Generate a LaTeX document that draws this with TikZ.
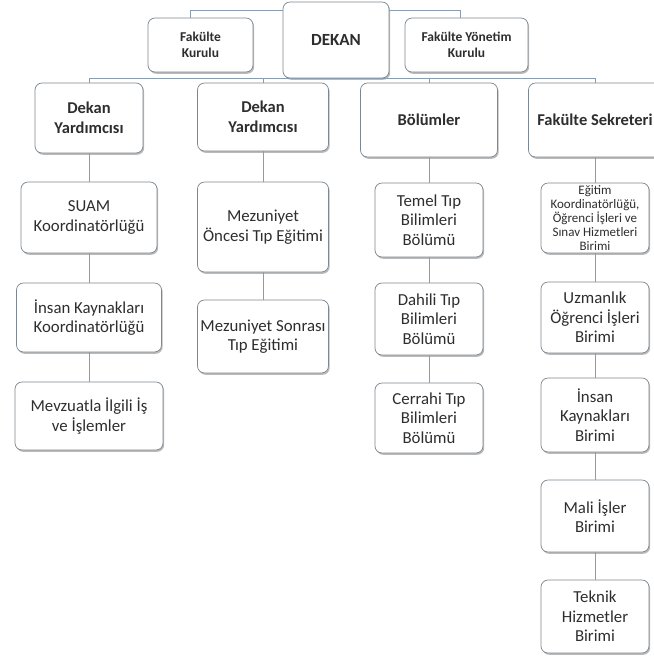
\documentclass[tikz,border=0pt]{standalone}
\usepackage{fontspec}
\setmainfont{Carlito}
\usetikzlibrary{positioning,shadows}
\definecolor{linegray}{HTML}{8A9DB0}
\definecolor{boxgray}{HTML}{7D8790}
\definecolor{textgray}{HTML}{2E2E2E}
\tikzset{every picture/.style={line width=0.8pt}}

\begin{document}
\begin{tikzpicture}[x=1pt, y=-1pt,
    unit/.style={draw=boxgray, line width=0.7pt, rounded corners=7pt, fill=white,
        text=textgray, align=center, inner sep=1pt,
        drop shadow={shadow xshift=1.2pt, shadow yshift=-1.8pt, fill=black!60, opacity=0.45},
        font=\fontsize{16.8}{19.5}\selectfont},
    head/.style={unit, font=\bfseries\fontsize{16.5}{19.5}\selectfont},
    small/.style={unit, font=\bfseries\fontsize{13.5}{16}\selectfont},
    conn/.style={draw=linegray, line width=1pt}]
    \useasboundingbox (0,0) rectangle (654,657);

    % Dean and boards
    \node[unit, font=\bfseries\fontsize{17}{20}\selectfont, minimum width=106pt, minimum height=76pt] (dekan) at (336,40) {DEKAN};
    \node[small, minimum width=105pt, minimum height=54pt] (kurul) at (200.5,45) {Fakülte\\Kurulu};
    \node[small, minimum width=123pt, minimum height=54pt] (yonetim) at (466.5,45) {Fakülte Yönetim\\Kurulu};

    % Second level
    \node[head, minimum width=108pt, minimum height=70pt] (dy1) at (89,118) {Dekan\\Yardımcısı};
    \node[head, minimum width=131pt, minimum height=68pt] (dy2) at (263,117) {Dekan\\Yardımcısı};
    \node[head, minimum width=137pt, minimum height=74pt] (bol) at (429,120) {Bölümler};
    \node[head, minimum width=133pt, minimum height=74pt] (sek) at (595,120) {Fakülte Sekreteri};

    % Column under first vice dean
    \node[unit, minimum width=136pt, minimum height=71pt] (suam) at (89,217.5) {SUAM\\Koordinatörlüğü};
    \node[unit, minimum width=145pt, minimum height=69pt] (ikk) at (89,317.5) {İnsan Kaynakları\\Koordinatörlüğü};
    \node[unit, minimum width=148pt, minimum height=68pt] (mevz) at (89,416) {Mevzuatla İlgili İş\\ve İşlemler};

    % Column under second vice dean
    \node[unit, minimum width=131pt, minimum height=90pt] (once) at (263,227) {Mezuniyet\\Öncesi Tıp Eğitimi};
    \node[unit, minimum width=131pt, minimum height=73pt] (sonra) at (263,336.5) {Mezuniyet Sonrası\\Tıp Eğitimi};

    % Departments
    \node[unit, minimum width=108pt, minimum height=74pt] (temel) at (429,220) {Temel Tıp\\Bilimleri\\Bölümü};
    \node[unit, minimum width=108pt, minimum height=72pt] (dahili) at (429,319) {Dahili Tıp\\Bilimleri\\Bölümü};
    \node[unit, minimum width=108pt, minimum height=70pt] (cerrahi) at (429,418) {Cerrahi Tıp\\Bilimleri\\Bölümü};

    % Faculty secretary units
    \node[unit, font=\fontsize{13}{14}\selectfont, minimum width=108pt, minimum height=70pt] (egitim) at (595,218) {Eğitim\\Koordinatörlüğü,\\Öğrenci İşleri ve\\Sınav Hizmetleri\\Birimi};
    \node[unit, minimum width=108pt, minimum height=71pt] (uzman) at (595,317.5) {Uzmanlık\\Öğrenci İşleri\\Birimi};
    \node[unit, minimum width=108pt, minimum height=74pt] (ikb) at (595,415) {İnsan\\Kaynakları\\Birimi};
    \node[unit, minimum width=108pt, minimum height=72pt] (mali) at (595,516) {Mali İşler\\Birimi};
    \node[unit, minimum width=108pt, minimum height=73pt] (teknik) at (595,616.5) {Teknik\\Hizmetler\\Birimi};

    % Connectors
    \coordinate (topline) at (336,10);
    \coordinate (bus) at (336,78.5);
    \draw[conn] ([xshift=-10.5pt]kurul.north) |- (dekan.west |- topline);
    \draw[conn] ([xshift=-6.5pt]yonetim.north) |- (dekan.east |- topline);
    \draw[conn] (dekan.south) -- (bus);
    \foreach \n in {dy1,dy2,bol,sek}
        \draw[conn] (bus) -| (\n.north);
    \draw[conn] (dy1) -- (suam) (suam) -- (ikk) (ikk) -- (mevz);
    \draw[conn] (dy2) -- (once) (once) -- (sonra);
    \draw[conn] (bol) -- (temel) (temel) -- (dahili) (dahili) -- (cerrahi);
    \draw[conn] (sek) -- (egitim) (egitim) -- (uzman) (uzman) -- (ikb) (ikb) -- (mali) (mali) -- (teknik);
\end{tikzpicture}
\end{document}
